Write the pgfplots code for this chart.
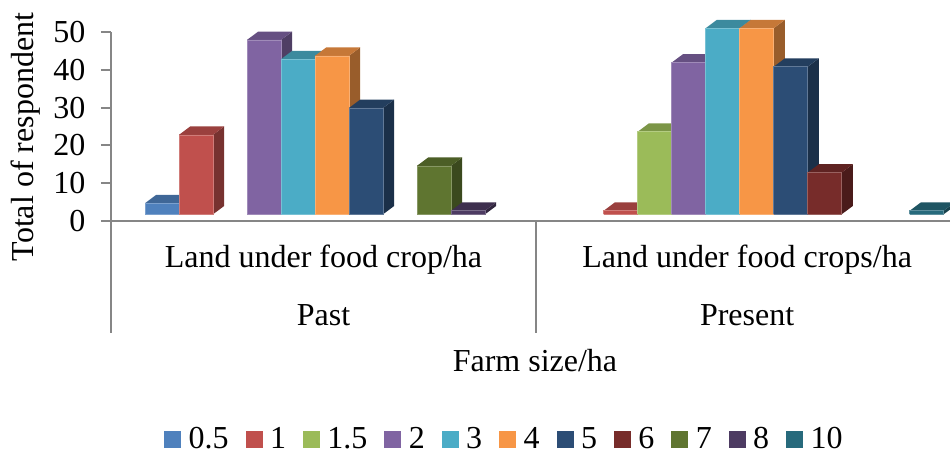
\documentclass[border=0pt]{standalone}
\usepackage{fontspec}
\setmainfont{Liberation Serif}
\usepackage{pgfplots}
\pgfplotsset{compat=1.18}

\definecolor{sA}{HTML}{4F81BD}
\definecolor{sB}{HTML}{C0504D}
\definecolor{sC}{HTML}{9BBB59}
\definecolor{sD}{HTML}{8064A2}
\definecolor{sE}{HTML}{4BACC6}
\definecolor{sF}{HTML}{F79646}
\definecolor{sG}{HTML}{2C4D75}
\definecolor{sH}{HTML}{772C2A}
\definecolor{sI}{HTML}{5F7530}
\definecolor{sJ}{HTML}{4D3B62}
\definecolor{sK}{HTML}{276A7C}
\definecolor{axisgray}{HTML}{868686}

% Floor of the bars and the oblique depth offset, in axis units
\def\floorv{1.77}
\def\depthx{0.33}
\def\depthy{2.22}

% Box-shaped bar: #1 left edge, #2 value, #3 colour
\newcommand{\threedbar}[3]{%
  \pgfmathsetmacro\xr{#1+1}%
  \pgfmathsetmacro\xa{#1+\depthx}%
  \pgfmathsetmacro\xb{#1+1+\depthx}%
  \pgfmathsetmacro\ya{#2+\depthy}%
  \pgfmathsetmacro\yf{\floorv+\depthy}%
  \edef\temp{%
    \noexpand\addplot[forget plot,draw=none,fill=#3!62!black]
      coordinates {(\xr,\floorv) (\xb,\yf) (\xb,\ya) (\xr,#2) (\xr,\floorv)};
    \noexpand\addplot[forget plot,draw=none,fill=#3!80!black]
      coordinates {(#1,#2) (\xa,\ya) (\xb,\ya) (\xr,#2) (#1,#2)};
    \noexpand\addplot[forget plot,draw=#3!75!white,line width=0.6pt,fill=#3]
      coordinates {(#1,\floorv) (\xr,\floorv) (\xr,#2) (#1,#2) (#1,\floorv)};
  }\temp
}

\begin{document}
\begin{tikzpicture}[font=\fontsize{32}{36}\selectfont]
\useasboundingbox (0,0) rectangle (950pt,452pt);
\begin{axis}[
  at={(111pt,119pt)}, anchor=south west,
  x=34pt, y=3.78pt,
  xmin=0, xmax=24.68, ymin=-29.63, ymax=50,
  clip=false,
  axis y line=left, axis x line=middle,
  axis line style={-, draw=axisgray, line width=2pt},
  xtick=\empty,
  ytick={0,10,20,30,40,50},
  tick style={draw=axisgray, line width=2pt},
  tick align=outside, major tick length=10pt,
  yticklabel style={xshift=-12pt},
  /pgf/number format/assume math mode=true,
  xlabel={Farm size/ha},
  xlabel style={at={(axis cs:12.47,-36.8)}, anchor=center},
  ylabel={Total of respondent},
  ylabel style={at={(axis cs:-2.5,22.2)}, anchor=center, rotate=0},
  legend columns=11,
  legend style={
    draw=none, fill=none, inner sep=0pt,
    at={(axis cs:11.6,-57.7)}, anchor=center,
    /tikz/every even column/.append style={column sep=13pt},
    /tikz/every odd column/.append style={column sep=4pt},
    nodes={inner xsep=4pt, inner ysep=2pt},
  },
  legend image code/.code={\fill[#1] (0pt,-8pt) rectangle (16pt,8pt);},
]

% Group dividers below the category line
\addplot[forget plot,draw=axisgray,line width=1.5pt] coordinates {(12.5,0) (12.5,-29.63)};

% Past
\threedbar{1}{4.7}{sA}
\threedbar{2}{22.8}{sB}
\threedbar{4}{47.9}{sD}
\threedbar{5}{42.8}{sE}
\threedbar{6}{43.7}{sF}
\threedbar{7}{29.9}{sG}
\threedbar{9}{14.6}{sI}
\threedbar{10}{2.7}{sJ}

% Present
\threedbar{14.49}{2.7}{sB}
\threedbar{15.49}{23.6}{sC}
\threedbar{16.49}{41.9}{sD}
\threedbar{17.49}{51}{sE}
\threedbar{18.49}{51}{sF}
\threedbar{19.49}{40.8}{sG}
\threedbar{20.49}{12.8}{sH}
\threedbar{23.49}{2.7}{sK}

\addlegendimage{sA}\addlegendentry{0.5}
\addlegendimage{sB}\addlegendentry{1}
\addlegendimage{sC}\addlegendentry{1.5}
\addlegendimage{sD}\addlegendentry{2}
\addlegendimage{sE}\addlegendentry{3}
\addlegendimage{sF}\addlegendentry{4}
\addlegendimage{sG}\addlegendentry{5}
\addlegendimage{sH}\addlegendentry{6}
\addlegendimage{sI}\addlegendentry{7}
\addlegendimage{sJ}\addlegendentry{8}
\addlegendimage{sK}\addlegendentry{10}

\node at (axis cs:6.25,-10.3) {Land under food crop/ha};
\node at (axis cs:18.71,-10.3) {Land under food crops/ha};
\node at (axis cs:6.25,-24.9) {Past};
\node at (axis cs:18.71,-24.9) {Present};
\end{axis}
\end{tikzpicture}
\end{document}
